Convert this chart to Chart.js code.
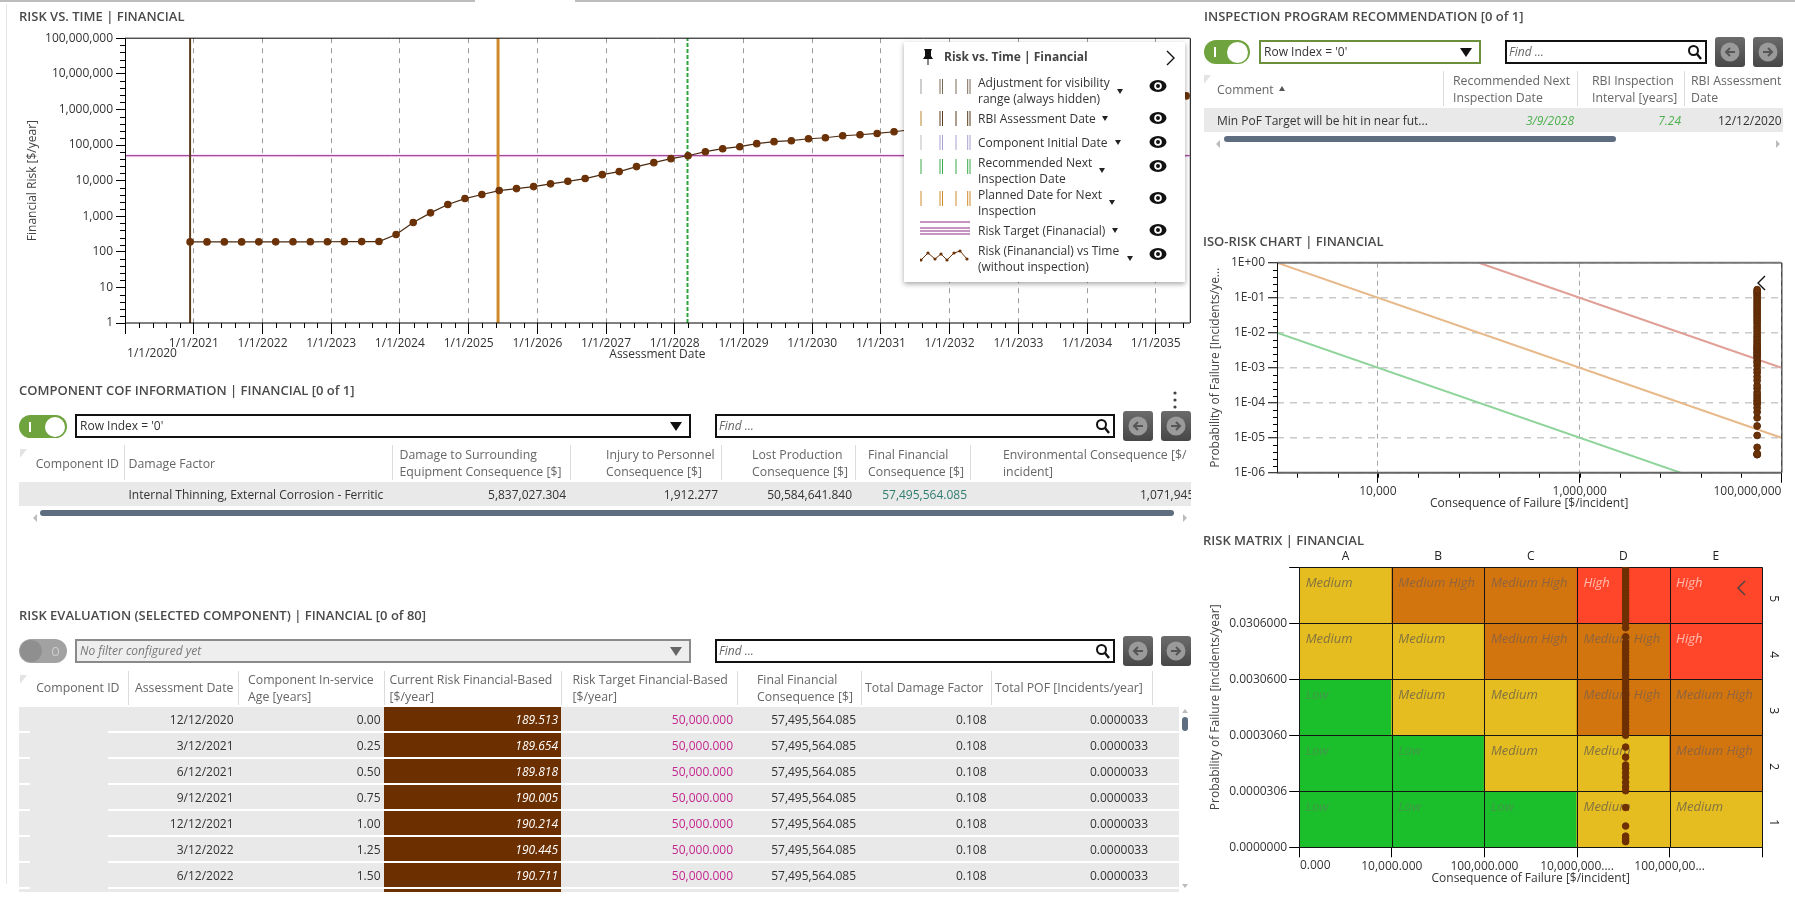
<!DOCTYPE html>
<html><head><meta charset="utf-8">
<script src="https://cdn.jsdelivr.net/npm/chart.js@4/dist/chart.umd.js"></script>
<style>
html,body{margin:0;padding:0;background:#fff;overflow:hidden}
body{width:1795px;height:899px;position:relative;font-family:"Open Sans",sans-serif;font-size:12px;color:#333}
canvas{position:absolute}
.a{position:absolute}
.t{position:absolute;white-space:nowrap;transform:translateY(-50%);line-height:1}
.t.r{transform:translate(-100%,-50%)}
</style></head><body>
<script>
/* ---------- chart values ---------- */
const yearTickDates=['1/1/2020','1/1/2021','1/1/2022','1/1/2023','1/1/2024','1/1/2025','1/1/2026','1/1/2027','1/1/2028','1/1/2029','1/1/2030','1/1/2031','1/1/2032','1/1/2033','1/1/2034','1/1/2035'];
const riskLogTicks=[1,10,100,1000,10000,100000,1000000,10000000,100000000];
const riskLogLabels=['1','10','100','1,000','10,000','100,000','1,000,000','10,000,000','100,000,000'];
const riskDates=['12/12/2020','3/12/2021','6/12/2021','9/12/2021','12/12/2021','3/12/2022','6/12/2022','9/12/2022','12/12/2022','3/12/2023','6/12/2023','9/12/2023','12/12/2023','3/12/2024','6/12/2024','9/12/2024','12/12/2024','3/12/2025','6/12/2025','9/12/2025','12/12/2025','3/12/2026','6/12/2026','9/12/2026','12/12/2026','3/12/2027','6/12/2027','9/12/2027','12/12/2027','3/12/2028','6/12/2028','9/12/2028','12/12/2028','3/12/2029','6/12/2029','9/12/2029','12/12/2029','3/12/2030','6/12/2030','9/12/2030','12/12/2030','3/12/2031','6/12/2035'];
const riskValues=[189.513,189.654,189.818,190.005,190.214,190.445,190.711,191,191.4,193,193.5,194,307,665,1240,2130,3130,4060,5250,5970,6790,8100,9550,11400,14700,17900,24700,31900,41300,50000,64900,78700,89500,109000,124000,132000,150000,160000,182000,194000,211000,236000,2400000];
const riskTargetValue=50000;
const rbiAssessmentDate='12/12/2020', plannedDate='6/6/2025', recommendedDate='3/9/2028';

const isoXTicks=[10000,1000000,100000000];
const isoXLabels=['10,000','1,000,000','100,000,000'];
const isoYTicks=[1,0.1,0.01,0.001,0.0001,0.00001,0.000001];
const isoYLabels=['1E+00','1E-01','1E-02','1E-03','1E-04','1E-05','1E-06'];
const isoGreenX=[1000,10000000], isoGreenY=[0.01,0.000001];
const isoOrangeX=[1000,100000000], isoOrangeY=[1,0.00001];
const isoRedX=[100000,100000000], isoRedY=[1,0.001];
const finalConsequence=57495564.085;
const isoPof=[0.0000033,0.0000033,0.0000034,0.0000035,0.0000053,0.0000116,0.0000216,0.000037,0.000054,0.000071,0.000091,0.000104,0.000118,0.00014,0.000166,0.000198,0.000256,0.00031,0.00043,0.00055,0.00072,0.00087,0.00113,0.00137,0.00156,0.0019,0.00216,0.0023,0.0026,0.0028,0.0032,0.0034,0.0037,0.0041,0.0046,0.0053,0.006,0.007,0.008,0.0094,0.011,0.013,0.015,0.018,0.021,0.024,0.028,0.032,0.037,0.042,0.048,0.055,0.063,0.072,0.083,0.095,0.11,0.125,0.14,0.155,0.17];

const matrixCols=['A','B','C','D','E'];
const matrixRows=['5','4','3','2','1'];
const matrixRow1=['Low','Low','Low','Medium','Medium'];
const matrixRow2=['Low','Low','Medium','Medium','Medium High'];
const matrixRow3=['Low','Medium','Medium','Medium High','Medium High'];
const matrixRow4=['Medium','Medium','Medium High','Medium High','High'];
const matrixRow5=['Medium','Medium High','Medium High','High','High'];
const matrixXLabels=['','10,000.000','100,000.000','10,000,000....','100,000,00...',''];
const matrixYLabels=['0.0000000','0.0000306','0.0003060','0.0030600','0.0306000',''];
const matrixPointColumn=3.525;
const matrixPointRow=[0.10,0.13,0.16,0.20,0.38,0.71,1.01,1.08,1.16,1.25,1.33,1.41,1.47,1.61,1.79,2.0,2.05,2.11,2.17,2.23,2.29,2.35,2.41,2.47,2.53,2.59,2.65,2.71,2.77,2.83,2.89,2.95,3.01,3.07,3.13,3.19,3.25,3.31,3.37,3.43,3.49,3.55,3.61,3.66,3.76,3.92,4.0,4.05,4.1,4.15,4.2,4.25,4.3,4.35,4.4,4.45,4.5,4.55,4.6,4.65,4.7,4.75,4.8,4.85,4.9,4.95,5.0];

/* ---------- table values ---------- */
const evalDates=['12/12/2020','3/12/2021','6/12/2021','9/12/2021','12/12/2021','3/12/2022','6/12/2022'];
const evalAges=['0.00','0.25','0.50','0.75','1.00','1.25','1.50'];
const evalRisk=['189.513','189.654','189.818','190.005','190.214','190.445','190.711'];
const evalTarget='50,000.000', evalFinal='57,495,564.085', evalDamage='0.108', evalPof='0.0000033';

/* ---------- helpers ---------- */
const FONT='"Open Sans",sans-serif';
Chart.defaults.font.family=FONT; Chart.defaults.font.size=12; Chart.defaults.color='#333';
const ms=s=>{const p=s.split('/').map(Number);return Date.UTC(p[2],p[0]-1,p[1]);};
const fixH=h=>s=>{s.height=h;}, fixW=w=>s=>{s.width=w;};
function mkCanvas(l,t,w,h){const c=document.createElement('canvas');c.width=w;c.height=h;c.style.cssText=`left:${l}px;top:${t}px;width:${w}px;height:${h}px`;document.body.appendChild(c);return c;}
const baseOpts={responsive:false,animation:false,devicePixelRatio:1,events:[],plugins:{legend:{display:false},tooltip:{enabled:false}}};
function decor(cfg){return{id:'decor',afterDraw(ch){const c=ch.ctx,a=ch.chartArea;c.save();
  (cfg.marks||[]).forEach(m=>{const s=ch.scales[m.scale];c.strokeStyle=m.color||'#000';c.lineWidth=1;
    m.values.forEach(v=>{const p=Math.round(s.getPixelForValue(v))+.5;c.beginPath();
      if(s.isHorizontal()){c.moveTo(p,a.bottom);c.lineTo(p,a.bottom+m.len);}else{c.moveTo(a.left,p);c.lineTo(a.left-m.len,p);}c.stroke();});});
  const f=cfg.frame;if(f){const ln=(x1,y1,x2,y2,st)=>{c.strokeStyle=st[0];c.lineWidth=st[1];c.beginPath();c.moveTo(x1,y1);c.lineTo(x2,y2);c.stroke();};
    ln(a.left,a.top,a.right,a.top,f.top);ln(a.left,a.bottom,a.right,a.bottom,f.bottom);ln(a.left+.5,a.top,a.left+.5,a.bottom,f.left);ln(a.right+.5,a.top,a.right+.5,a.bottom,f.right);}
  (cfg.labels||[]).forEach(l=>{const s=ch.scales[l.scale];c.font='12px '+FONT;c.fillStyle='#333';c.textAlign=l.align||'center';c.textBaseline='middle';c.fillText(l.text,s.getPixelForValue(l.value)+(l.dx||0),l.y);});
  c.restore();}};}

/* ---------- static page furniture ---------- */
const root=document.body;
function box(l,t,w,h,css,par){const d=document.createElement('div');d.className='a';d.style.cssText=`left:${l}px;top:${t}px;width:${w}px;height:${h}px;`+(css||'');(par||root).appendChild(d);return d;}
function txt(s,x,y,css,par,right){const d=document.createElement('div');d.className=right?'t r':'t';d.textContent=s;d.style.cssText=`left:${x}px;top:${y}px;`+(css||'');(par||root).appendChild(d);return d;}
function svg(l,t,w,h,inner,par){const d=document.createElement('div');d.className='a';d.style.cssText=`left:${l}px;top:${t}px;width:${w}px;height:${h}px`;d.innerHTML=`<svg width="${w}" height="${h}" viewBox="0 0 ${w} ${h}">${inner}</svg>`;(par||root).appendChild(d);return d;}
const TITLE='font-size:13px;font-weight:600;color:#4a4a4a;';
const HEAD='color:#666;font-size:12.3px;';
function tri(x,y,w,h,col,par,up){box(x-w/2,y-h/2,0,0,`border-left:${w/2}px solid transparent;border-right:${w/2}px solid transparent;border-${up?'bottom':'top'}:${h}px solid ${col};`,par);}
function corner(x,y,par){svg(x,y,7,9,'<path d="M0 0H7L0 9Z" fill="#e3e3e3"/>',par);}
function toggle(x,y,w,h,on){box(x,y,w,h,`border-radius:${h/2}px;background:${on?'#6fa33e':'#a2a2a2'};`);
 if(on){box(x+w-h+1,y+1.5,h-3,h-3,'border-radius:50%;background:#fff');box(x+h/2-2,y+h/2-5,2,10,'background:#fff');}
 else{box(x+1,y+1,h-2,h-2,'border-radius:50%;background:#8f8f8f');box(x+w-h/2-3.5,y+h/2-4.5,7,9,'border-radius:50%;border:1.5px solid #cfcfcf;box-sizing:border-box');}}
function nav(x,y,w,h,dir){box(x,y,w,h,'border-radius:3px;background:linear-gradient(#6b6b6b,#474747)');
 const cx=w/2,cy=h/2,d=dir<0?`M${cx+5} ${cy}H${cx-4}M${cx} ${cy-4}L${cx-4} ${cy}L${cx} ${cy+4}`:`M${cx-5} ${cy}H${cx+4}M${cx} ${cy-4}L${cx+4} ${cy}L${cx} ${cy+4}`;
 svg(x,y,w,h,`<circle cx="${cx}" cy="${cy}" r="9.5" fill="#9a9a9a"/><path d="${d}" stroke="#555" stroke-width="2" fill="none"/>`);}
function findBox(x,y,w,h){box(x,y,w,h,'border:2px solid #111;box-sizing:border-box;background:#fff');txt('Find ...',x+4,y+h/2,'font-style:italic;color:#666');
 svg(x+w-20,y+h/2-8,16,16,'<circle cx="6.5" cy="6.5" r="4.5" fill="none" stroke="#111" stroke-width="2"/><path d="M10 10L14 15" stroke="#111" stroke-width="2.4"/>');}
function drop(x,y,w,h,label,border,bg,css){box(x,y,w,h,`border:2px solid ${border};box-sizing:border-box;background:${bg}`);txt(label,x+5,y+h/2,css||'color:#333');tri(x+w-15,y+h/2,12,9,bg==='#fff'?'#111':'#666');}
function vsep(x,t,b,par){box(x,t,1,b-t,'background:#dcdcdc',par);}
function chevron(x,y,left,col){svg(x-6,y-9,12,18,left?'<path d="M9 2L2 9L9 16" fill="none" stroke="'+(col||'#111')+'" stroke-width="1.4"/>':'<path d="M3 2L10 9L3 16" fill="none" stroke="#111" stroke-width="1.4"/>');}
function hArrows(x1,x2,y,par){svg(x1,y-4,5,8,'<path d="M4 0L0 4L4 8Z" fill="#bbb"/>',par);svg(x2,y-4,5,8,'<path d="M1 0L5 4L1 8Z" fill="#bbb"/>',par);}

box(0,0,475,2,'background:#bdbdbd');box(575,0,1220,2,'background:#bdbdbd');
box(6,4,1,880,'background:#e6e6e6');
</script>
<script>
/* ---------- chart 1 : risk vs time ---------- */
(function(){
const c=mkCanvas(10,28,1185,337);
const minX=ms('1/1/2020'),maxX=ms('7/1/2035');
const xMinor=[];for(let y=0;y<yearTickDates.length;y++){const a=ms(yearTickDates[y]),b=Date.UTC(2020+y+1,0,1);for(let k=1;k<5;k++){const v=a+(b-a)*k/5;if(v<maxX)xMinor.push(v);}}
const yMinor=[];for(let d=0;d<8;d++)for(let k=1;k<5;k++)yMinor.push(Math.pow(10,d+k/5));
const vline=(date,col,w,dash,order)=>({data:[{x:ms(date),y:1},{x:ms(date),y:100000000}],showLine:true,pointRadius:0,borderColor:col,borderWidth:w,borderDash:dash||[],order});
const xTickVals=yearTickDates.map(ms);
new Chart(c,{type:'scatter',plugins:[decor({marks:[{scale:'x',values:xMinor,len:5},{scale:'y',values:yMinor,len:5}],
  frame:{top:['#000',1],bottom:['#000',1],left:['#000',1],right:['#000',1]},
  labels:[{scale:'x',value:minX,text:yearTickDates[0],dx:27,y:326}]})],
 data:{datasets:[
  {data:riskDates.map((d,i)=>({x:ms(d),y:riskValues[i]})),showLine:true,borderColor:'#4a2a10',borderWidth:1.2,backgroundColor:'#6b3208',pointBackgroundColor:'#6b3208',pointBorderColor:'#6b3208',pointRadius:3.2,order:0},
  vline(rbiAssessmentDate,'#5a3a1c',2,null,1),
  vline(plannedDate,'#d08a2a',3,null,2),
  vline(recommendedDate,'#2aa63c',2,[4,2],3),
  {data:[{x:minX,y:riskTargetValue},{x:maxX,y:riskTargetValue}],showLine:true,pointRadius:0,borderColor:'#8e2a85',borderWidth:1,order:4},
  {data:[{x:minX,y:riskTargetValue},{x:maxX,y:riskTargetValue}],showLine:true,pointRadius:0,borderColor:'rgba(240,160,230,.35)',borderWidth:3,order:5}
 ]},
 options:{...baseOpts,layout:{padding:{top:10,right:5,left:0,bottom:0}},
  scales:{
   x:{type:'linear',min:minX,max:maxX,afterFit:fixH(42),afterBuildTicks:s=>{s.ticks=xTickVals.map(v=>({value:v}));},
     border:{display:false,dash:[5,5]},
     grid:{color:'#9a9a9a',lineWidth:1,tickLength:11,tickColor:'#000',tickBorderDash:[],drawOnChartArea:true},
     ticks:{autoSkip:false,maxRotation:0,minRotation:0,padding:2,callback:(v,i)=>i===0?'':yearTickDates[i]},
     title:{display:true,text:'Assessment Date',font:{size:12},padding:{top:0,bottom:3},color:'#333'}},
   y:{type:'logarithmic',min:1,max:100000000,afterFit:fixW(115),afterBuildTicks:s=>{s.ticks=riskLogTicks.map(v=>({value:v}));},
     border:{display:false},
     grid:{drawOnChartArea:false,tickLength:9,tickColor:'#000'},
     ticks:{autoSkip:false,padding:3,callback:(v)=>riskLogLabels[riskLogTicks.indexOf(v)]},
     title:{display:true,text:'Financial Risk [$/year]',font:{size:12},padding:{top:15,bottom:0},color:'#444'}}
  }}});
})();

/* ---------- chart 2 : iso-risk ---------- */
(function(){
const c=mkCanvas(1197,252,590,268);
const xMinor=[];for(let e=3.2;e<8;e+=0.4){xMinor.push(Math.pow(10,e));}
const yMinor=[];for(let d=-6;d<0;d++)for(let k=1;k<5;k++)yMinor.push(Math.pow(10,d+k/5));
const ln=(X,Y,col)=>({data:X.map((x,i)=>({x,y:Y[i]})),showLine:true,pointRadius:0,borderColor:col,borderWidth:2,order:2});
new Chart(c,{type:'scatter',plugins:[decor({marks:[{scale:'x',values:xMinor,len:5},{scale:'y',values:yMinor,len:4}],
  frame:{top:['#777',2],bottom:['#666',2],left:['#111',1],right:['#111',1]},
  labels:[{scale:'x',value:100000000,text:isoXLabels[2],align:'right',y:240}]})],
 data:{datasets:[
  {data:isoPof.map(p=>({x:finalConsequence,y:p})),pointBackgroundColor:'#6b3208',pointBorderColor:'#5a2a06',pointRadius:3.4,order:0},
  ln(isoGreenX,isoGreenY,'#8fd49a'),ln(isoOrangeX,isoOrangeY,'#e8b98a'),ln(isoRedX,isoRedY,'#e0a098')
 ]},
 options:{...baseOpts,layout:{padding:{top:10.7,right:5.6}},
  scales:{
   x:{type:'logarithmic',min:1000,max:100000000,afterFit:fixH(47.3),afterBuildTicks:s=>{s.ticks=isoXTicks.map(v=>({value:v}));},
     border:{display:false,dash:[5,4]},grid:{color:'#a8a8a8',tickLength:10,tickColor:'#000',tickBorderDash:[]},
     ticks:{autoSkip:false,maxRotation:0,minRotation:0,padding:2,callback:v=>v===100000000?'':isoXLabels[isoXTicks.indexOf(v)]},
     title:{display:true,text:'Consequence of Failure [$/incident]',font:{size:12},padding:{top:0,bottom:9},color:'#333'}},
   y:{type:'logarithmic',min:0.000001,max:1,afterFit:fixW(80),afterBuildTicks:s=>{s.ticks=isoYTicks.map(v=>({value:v}));},
     border:{display:false,dash:[7,6]},grid:{color:'#c9c9c9',lineWidth:1.5,tickLength:9,tickColor:'#000',tickBorderDash:[],tickWidth:1},
     ticks:{autoSkip:false,padding:3,callback:v=>isoYLabels[isoYTicks.findIndex(t=>Math.abs(Math.log10(t)-Math.log10(v))<1e-6)]},
     title:{display:true,text:'Probability of Failure [Incidents/ye...',font:{size:12},padding:{top:11,bottom:0},color:'#444'}}
  }}});
})();

/* ---------- chart 3 : risk matrix ---------- */
(function(){
const c=mkCanvas(1197,545,590,345);
const levelColor={'Low':'#1bbf2b','Medium':'#e6bd20','Medium High':'#d2750e','High':'#ff452a'};
const levelText={'Low':'rgba(90,130,90,.65)','Medium':'rgba(110,100,70,.85)','Medium High':'rgba(125,95,75,.8)','High':'rgba(255,215,205,.8)'};
const rows=[matrixRow1,matrixRow2,matrixRow3,matrixRow4,matrixRow5];
const cellLabels={id:'cellLabels',beforeDatasetDraw(ch,a){ if(a.index!==5)return; const x=ch.ctx,area=ch.chartArea,sx=ch.scales.xv,sy=ch.scales.y;
  x.save();x.font='italic 13px '+FONT;x.textAlign='left';x.textBaseline='middle';
  rows.forEach((r,ri)=>r.forEach((lev,ci)=>{x.fillStyle=levelText[lev];x.fillText(lev,sx.getPixelForValue(ci)+6.5,sy.getPixelForValue(ri+1)+15.5);}));
  x.strokeStyle='#151515';x.lineWidth=1;
  [0,1,2,3,4,5].forEach(v=>{const p=Math.round(sx.getPixelForValue(v))+.5;x.beginPath();x.moveTo(p,area.top);x.lineTo(p,area.bottom);x.stroke();
    const q=Math.round(sy.getPixelForValue(v))+.5;x.beginPath();x.moveTo(area.left,q);x.lineTo(area.right,q);x.stroke();});
  x.restore();}};
new Chart(c,{type:'bar',plugins:[cellLabels,decor({labels:[{scale:'xv',value:0,text:'0.000',dx:16,y:320.7}]})],
 data:{labels:matrixCols,datasets:[
  ...rows.map((r,i)=>({type:'bar',label:'Row '+(i+1),data:r.map(()=>1),backgroundColor:r.map(l=>levelColor[l]),borderWidth:0,grouped:false,barThickness:93,xAxisID:'x',yAxisID:'y',order:1})),
  {type:'scatter',data:matrixPointRow.map(v=>({x:matrixPointColumn,y:v})),xAxisID:'xv',yAxisID:'yp',pointBackgroundColor:'#6e2f02',pointBorderColor:'#6e2f02',pointRadius:3.3,order:0}
 ]},
 options:{...baseOpts,layout:{padding:{right:0,left:0}},
  scales:{
   x:{type:'category',position:'top',stacked:true,offset:true,afterFit:fixH(22.3),border:{display:false},grid:{display:false,drawTicks:false,tickLength:0,offset:true},ticks:{padding:4,color:'#222'}},
   xv:{type:'linear',position:'bottom',min:0,max:5,offset:false,afterFit:fixH(42.7),afterBuildTicks:s=>{s.ticks=[0,1,2,3,4,5].map(v=>({value:v}));},
     border:{display:false},grid:{offset:false,drawOnChartArea:false,tickLength:10,tickColor:'#000'},
     ticks:{autoSkip:false,maxRotation:0,minRotation:0,padding:2,callback:(v)=>matrixXLabels[v]},
     title:{display:true,text:'Consequence of Failure [$/incident]',font:{size:12},padding:{top:0,bottom:4},color:'#333'}},
   y:{type:'linear',position:'left',stacked:true,min:0,max:5,afterFit:fixW(102.2),afterBuildTicks:s=>{s.ticks=[0,1,2,3,4,5].map(v=>({value:v}));},
     border:{display:false},grid:{drawOnChartArea:false,tickLength:10,tickColor:'#000'},
     ticks:{autoSkip:false,padding:2,callback:(v)=>matrixYLabels[v]},
     title:{display:true,text:'Probability of Failure [incidents/year]',font:{size:12},padding:{top:11,bottom:0},color:'#444'}},
   yp:{type:'linear',display:false,min:0,max:5},
   yr:{type:'category',position:'right',labels:matrixRows,offset:true,afterFit:fixW(24.8),border:{display:false},grid:{display:false,drawTicks:false,tickLength:0,offset:true},
     ticks:{minRotation:-90,maxRotation:-90,padding:11,color:'#222'}}
  }}});
})();
</script>
<script>
/* ---------- legend overlay on chart 1 ---------- */
(function(){
box(904,42,281,240,'background:#fff;box-shadow:0 2px 5px rgba(0,0,0,.35)');
svg(921,48,14,18,'<path d="M3 1H11L10 3V8L12 11H2L4 8V3Z M6.5 11H7.5V17H6.5Z" fill="#111"/>');
txt('Risk vs. Time | Financial',944,57,'font-weight:700;font-size:12px;color:#444');
chevron(1170,58,false);
const eye=y=>svg(1149,y-7,18,14,'<ellipse cx="9" cy="7" rx="8.5" ry="6" fill="#111"/><circle cx="9" cy="7" r="3.8" fill="#fff"/><circle cx="9" cy="7" r="2" fill="#111"/>');
const ticks=(y,col,c2)=>svg(920,y-7,52,15,[0,19,21.5,35,46.7,49].map((x,i)=>`<path d="M${x+1} 0V15" stroke="${i===0?(c2||col):col}" stroke-width="1"/>`).join(''));
const items=[
 {lines:['Adjustment for visibility','range (always hidden)'],ly:[83,99],ax:1120,ay:91,ey:86,ic:()=>ticks(86,'#7b6a58','#9a9a9a')},
 {lines:['RBI Assessment Date'],ly:[119],ax:1105,ay:118,ey:118,ic:()=>ticks(118,'#5a3a1c','#b8862f')},
 {lines:['Component Initial Date'],ly:[143],ax:1118,ay:142,ey:142,ic:()=>ticks(142,'#a9a0cf','#bbb')},
 {lines:['Recommended Next','Inspection Date'],ly:[163,179],ax:1102,ay:170,ey:166,ic:()=>ticks(166,'#38a848')},
 {lines:['Planned Date for Next','Inspection'],ly:[195,211],ax:1112,ay:202,ey:198,ic:()=>ticks(198,'#d08a2a')},
 {lines:['Risk Target (Finanacial)'],ly:[231],ax:1115,ay:230,ey:230,ic:()=>svg(920,220,51,16,[2,8,11,14].map(y=>`<path d="M0 ${y}H50" stroke="#8e2a85" stroke-width="1"/>`).join(''))},
 {lines:['Risk (Finanancial) vs Time','(without inspection)'],ly:[251,267],ax:1130,ay:258,ey:254,ic:()=>{const p=[[1,12],[8,5],[15,11],[21,6],[27,12],[34,5],[40,3],[47,11]];svg(920,248,50,16,`<polyline points="${p.map(a=>a.join(',')).join(' ')}" fill="none" stroke="#6b3208"/>`+p.map(a=>`<circle cx="${a[0]}" cy="${a[1]}" r="1.6" fill="#6b3208"/>`).join(''));}}
];
items.forEach(it=>{it.ic();it.lines.forEach((l,i)=>txt(l,978,it.ly[i],'color:#333'));tri(it.ax,it.ay,6,5,'#222');eye(it.ey);});
chevron(1762,283,true);chevron(1742,588,true,'#444');
})();

/* ---------- inspection program panel ---------- */
(function(){
const p=box(0,0,1783,899,'overflow:hidden');
txt('INSPECTION PROGRAM RECOMMENDATION [0 of 1]',1204,16,TITLE);
toggle(1204,40,46,24,true);
drop(1259,40,222,24,"Row Index = '0'",'#6b8f3a','#fff');
findBox(1505,40,202,24);
nav(1715,37,30,30,-1);nav(1753,37,30,30,1);
corner(1204,71,p);
[1443,1577,1684].forEach(x=>vsep(x,71,106,p));
txt('Comment',1217,89.5,HEAD,p);tri(1282,88,7,5,'#555',p,true);
txt('Recommended Next',1453,81,HEAD,p);txt('Inspection Date',1453,98,HEAD,p);
txt('RBI Inspection',1592,81,HEAD,p);txt('Interval [years]',1592,98,HEAD,p);
txt('RBI Assessment',1691,81,HEAD,p);txt('Date',1691,98,HEAD,p);
box(1204,108,579,24,'background:#e9e9e9',p);
txt('Min PoF Target will be hit in near fut...',1217,120.5,'color:#333',p);
txt('3/9/2028',1574,120.5,'color:#4db04d;font-style:italic',p,true);
txt('7.24',1681,120.5,'color:#4db04d;font-style:italic',p,true);
txt('12/12/2020',1718,120.5,'color:#333',p);
box(1224,136,392,6,'background:#5e6e80;border-radius:3px',p);
hArrows(1216,1775,139,p);
})();

/* ---------- component COF panel ---------- */
(function(){
const p=box(0,0,1191,899,'overflow:hidden');
txt('COMPONENT COF INFORMATION | FINANCIAL [0 of 1]',19,390,TITLE);
svg(1172,390,6,20,'<circle cx="3" cy="3" r="1.6" fill="#444"/><circle cx="3" cy="10" r="1.6" fill="#444"/><circle cx="3" cy="17" r="1.6" fill="#444"/>');
toggle(19,415,48,23,true);
drop(75,414,616,24,"Row Index = '0'",'#111','#fff');
findBox(715,414,400,24);
nav(1123,411,30,30,-1);nav(1161,411,30,30,1);
corner(20,445,p);
[124,392,570,721,855,970].forEach(x=>vsep(x,445,480,p));
txt('Component ID',119,464,HEAD,p,true);
txt('Damage Factor',128.5,464,HEAD,p);
[['Damage to Surrounding','Equipment Consequence [$]',399.5],['Injury to Personnel','Consequence [$]',606],['Lost Production','Consequence [$]',752],['Final Financial','Consequence [$]',868],['Environmental Consequence [$/','incident]',1003]].forEach(h=>{txt(h[0],h[2],455,HEAD,p);txt(h[1],h[2],472,HEAD,p);});
box(19,482,1172,24,'background:#e9e9e9',p);
txt('Internal Thinning, External Corrosion - Ferritic',128.5,495,'color:#333',p);
txt('5,837,027.304',566,495,'color:#333',p,true);
txt('1,912.277',718,495,'color:#333',p,true);
txt('50,584,641.840',852,495,'color:#333',p,true);
txt('57,495,564.085',967,495,'color:#2e7d6f',p,true);
txt('1,071,945.000',1140,495,'color:#333',p);
box(40,510,1134,6,'background:#5e6e80;border-radius:3px',p);
hArrows(33,1182,513,p);
})();

/* ---------- risk evaluation panel ---------- */
(function(){
const p=box(0,0,1191,892,'overflow:hidden');
txt('RISK EVALUATION (SELECTED COMPONENT) | FINANCIAL [0 of 80]',19,615,TITLE);
toggle(19,639,48,24,false);
drop(75,639,616,24,'No filter configured yet','#8a8a8a','#eeeeee','color:#777;font-style:italic');
findBox(715,639,400,24);
nav(1123,636,30,30,-1);nav(1161,636,30,30,1);
corner(20,671,p);
[128,238,384,561,737,861,991,1152].forEach(x=>vsep(x,671,705,p));
txt('Component ID',119.5,688,HEAD,p,true);
txt('Assessment Date',233.5,688,HEAD,p,true);
[['Component In-service','Age [years]',248],['Current Risk Financial-Based','[$/year]',389.5],['Risk Target Financial-Based','[$/year]',572.5],['Final Financial','Consequence [$]',757]].forEach(h=>{txt(h[0],h[2],680,HEAD,p);txt(h[1],h[2],697,HEAD,p);});
txt('Total Damage Factor',865,688,HEAD,p);
txt('Total POF [Incidents/year]',995,688,HEAD,p);
box(19,707,89,185,'background:#e9e9e9',p);
for(let i=0;i<8;i++){const y=707+26*i;
  box(108,y,1071,24,'background:#e9e9e9',p);
  box(384,y,177,24,'background:#6b2f00',p);
  if(i<7){box(19,y+24,11,2,'background:#fff',p);
    const c=y+13;
    txt(evalDates[i],233.5,c,'color:#333',p,true);
    txt(evalAges[i],380.5,c,'color:#333',p,true);
    txt(evalRisk[i],558,c,'color:#fff;font-style:italic',p,true);
    txt(evalTarget,733,c,'color:#c2278e',p,true);
    txt(evalFinal,856,c,'color:#333',p,true);
    txt(evalDamage,986.5,c,'color:#333',p,true);
    txt(evalPof,1148,c,'color:#333',p,true);}
}
box(1182,717,6,14,'background:#5e6e80;border-radius:3px',p);
tri(1185,711,6,4,'#bbb',p,true);tri(1185,886,6,4,'#bbb',p);
})();

/* ---------- panel titles ---------- */
txt('RISK VS. TIME | FINANCIAL',19,16,TITLE);
txt('ISO-RISK CHART | FINANCIAL',1203,241,TITLE);
txt('RISK MATRIX | FINANCIAL',1203,540,TITLE);
</script>
</body></html>
